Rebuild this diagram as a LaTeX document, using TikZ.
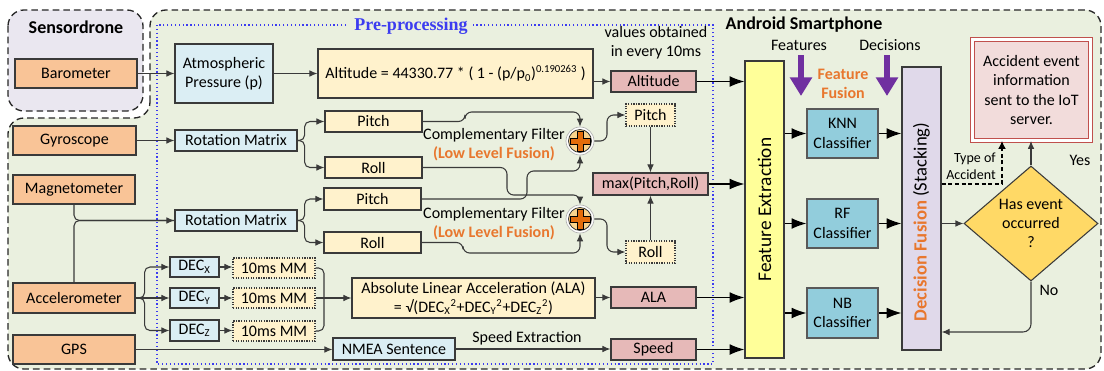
\documentclass[tikz,border=0pt]{standalone}
\usepackage{fontspec}
\setmainfont{Carlito}
\newfontfamily\serifbf{Liberation Serif}
\usetikzlibrary{arrows.meta,shapes.geometric,calc}
\definecolor{bggreen}{HTML}{EAF0DF}
\definecolor{lavbg}{HTML}{EAE7F0}
\definecolor{sensor}{HTML}{F9C497}
\definecolor{lblue}{HTML}{DBEEF4}
\definecolor{lyel}{HTML}{FFF2CC}
\definecolor{pinkc}{HTML}{E6B9B8}
\definecolor{clsc}{HTML}{92CDDC}
\definecolor{fey}{HTML}{FFFF99}
\definecolor{dfl}{HTML}{E0D9EA}
\definecolor{accfill}{HTML}{F2DCDB}
\definecolor{accline}{HTML}{C0504D}
\definecolor{diaf}{HTML}{FFD966}
\definecolor{purp}{HTML}{7030A0}
\definecolor{orng}{HTML}{E8772E}
\definecolor{prebl}{HTML}{3C3CF0}
\definecolor{bord}{HTML}{3A3A3A}
\definecolor{plusbg}{HTML}{FAD38C}
\definecolor{plusor}{HTML}{E46C0A}
\newcommand\mainf{\fontsize{12}{14.4}\selectfont}
\newcommand\mybox[7]{\node[#6, minimum width={(#4-#2)*0.75pt}, minimum height={(#5-#3)*0.75pt}] (#1) at ({(#2+#4)/2},{(#3+#5)/2}) {#7};}
\newcommand\plusnode[3]{%
  \node[circle, draw=gray!60, fill=white, line width=0.5pt, minimum size=21pt, inner sep=0pt] (#1) at (#2,#3) {};
  \filldraw[fill=plusbg, draw=bord, line width=0.6pt] (#1.center) circle[radius=8.6pt];
  \filldraw[fill=plusor, draw=black, line width=0.6pt, shift={(#2,#3)}]
    (-3,-10) -- (3,-10) -- (3,-3) -- (10,-3) -- (10,3) -- (3,3) -- (3,10) -- (-3,10) -- (-3,3) -- (-10,3) -- (-10,-3) -- (-3,-3) -- cycle;}
\tikzset{
  bx/.style={draw=bord, line width=0.9pt, inner sep=0pt, align=center},
  sens/.style={bx, fill=sensor},
  lb/.style={bx, fill=lblue},
  ly/.style={bx, fill=lyel},
  lyd/.style={bx, fill=lyel, densely dotted},
  pk/.style={bx, fill=pinkc},
  cls/.style={bx, fill=clsc, draw=gray!70!black},
  ln/.style={draw=bord, line width=0.8pt},
  arr/.style={ln, -{Latex[length=6pt,width=5pt]}},
  bigarr/.style={draw=black, line width=0.8pt, -{Latex[length=11pt,width=8pt]}},
  purparr/.style={draw=purp, line width=4.5pt, -{Triangle[length=14pt,width=16pt]}},
  regionline/.style={draw=black!85, line width=1pt, dash pattern=on 5pt off 3pt},
}
\begin{document}
\begin{tikzpicture}[x=0.75pt,y=-0.75pt, every node/.style={font=\mainf}]
\useasboundingbox (0,0) rectangle (1104,371);
% regions
\draw[regionline, fill=lavbg, rounded corners=12] (8,10) rectangle (143,111);
\draw[regionline, fill=bggreen, rounded corners=12] (150,118) -- (150,10) -- (1101,10) -- (1101,369) -- (8,369) -- (8,118) -- cycle;
\node[font=\fontsize{13.5}{16}\selectfont\bfseries] (tsd) at (76,27) {Sensordrone};
\node[font=\fontsize{13.5}{16}\selectfont\bfseries] (tas) at (804,25) {Android Smartphone};
\draw[draw=prebl, line width=0.9pt, dotted] (157,25) rectangle (713,364);
\node[fill=bggreen, inner xsep=4pt, inner ysep=1pt, text=prebl, font=\serifbf\fontsize{13.5}{16}\selectfont\bfseries] (tpre) at (411,26) {Pre-processing};

% sensors
\mybox{baro}{15}{59}{137}{88}{sens}{Barometer}
\mybox{gyro}{13}{126}{136}{155}{sens}{Gyroscope}
\mybox{mag}{13}{175}{135}{204}{sens}{Magnetometer}
\mybox{acc}{13}{283}{135}{313}{sens}{Accelerometer}
\mybox{gps}{13}{335}{135}{364}{sens}{GPS}

% pre-processing
\mybox{atm}{175}{44}{273}{103}{lb}{Atmospheric\\Pressure (p)}
\mybox{altf}{318}{49}{593}{98}{ly}{Altitude = 44330.77 * ( 1 - (p/p\textsubscript{0})\textsuperscript{0.190263} )}
\node[align=center] (vals) at (656,43) {values obtained\\in every 10ms};
\mybox{alt}{611}{71}{696}{92}{pk}{Altitude}
\mybox{rma}{175}{130}{297}{151}{lb}{Rotation Matrix}
\mybox{pa}{325}{111}{422}{132}{ly}{Pitch}
\mybox{ra}{325}{157}{422}{178}{ly}{Roll}
\mybox{rmb}{175}{210}{297}{231}{lb}{Rotation Matrix}
\mybox{pb}{324}{188}{421}{210}{ly}{Pitch}
\mybox{rb}{324}{232}{421}{253}{ly}{Roll}
\mybox{pd}{626}{104}{675}{126}{lyd}{Pitch}
\mybox{rd}{626}{241}{675}{263}{lyd}{Roll}
\mybox{mx}{593}{173}{708}{195}{pk}{max(Pitch,Roll)}
\plusnode{ca}{580}{141}
\plusnode{cb}{580}{219}
\node (cfa) at (494,135) {Complementary Filter};
\node[text=orng, font=\mainf\bfseries] (lla) at (494,154) {(Low Level Fusion)};
\node (cfb) at (494,214) {Complementary Filter};
\node[text=orng, font=\mainf\bfseries] (llb) at (494,233) {(Low Level Fusion)};
\mybox{decx}{170}{257}{219}{277}{lb}{DEC\textsubscript{X}}
\mybox{decy}{170}{288}{219}{308}{lb}{DEC\textsubscript{Y}}
\mybox{decz}{170}{320}{219}{341}{lb}{DEC\textsubscript{Z}}
\mybox{mma}{233}{258}{315}{278}{lyd}{10ms MM}
\mybox{mmb}{233}{288}{315}{308}{lyd}{10ms MM}
\mybox{mmc}{233}{321}{315}{341}{lyd}{10ms MM}
\mybox{alaf}{352}{278}{595}{318}{ly}{Absolute Linear Acceleration (ALA)\\= √(DEC\textsubscript{X}\textsuperscript{2}+DEC\textsubscript{Y}\textsuperscript{2}+DEC\textsubscript{Z}\textsuperscript{2})}
\mybox{ala}{611}{287}{696}{308}{pk}{ALA}
\mybox{nmea}{333}{338}{455}{360}{lb}{NMEA Sentence}
\mybox{spd}{611}{339}{696}{360}{pk}{Speed}
\node (sext) at (527,338) {Speed Extraction};

% android part
\mybox{fe}{745}{61}{784}{358}{bx, fill=fey}{}
\node[rotate=90, font=\fontsize{14.5}{17}\selectfont] (fet) at (fe.center) {Feature Extraction};
\node (tfeat) at (799,45) {Features};
\node (tdec) at (890,45) {Decisions};
\coordinate (pua) at (801,55); \coordinate (pub) at (801,96);
\coordinate (puc) at (887,55); \coordinate (pud) at (887,96);
\draw[purparr] (pua) -- (pub);
\draw[purparr] (puc) -- (pud);
\node[text=orng, font=\mainf\bfseries, align=center] (tff) at (843,84) {Feature\\Fusion};
\mybox{knn}{807}{109}{878}{158}{cls}{KNN\\Classifier}
\mybox{rf}{807}{199}{878}{248}{cls}{RF\\Classifier}
\mybox{nb}{807}{288}{878}{338}{cls}{NB\\Classifier}
\mybox{df}{902}{67}{941}{350}{bx, fill=dfl}{}
\node[rotate=90, font=\fontsize{14}{17}\selectfont] (dft) at (921.5,222) {{\color{orng}\bfseries Decision Fusion} (Stacking)};
\node[draw=accline, double=white, double distance=2pt, line width=0.6pt, fill=accfill, minimum width={118*0.75pt}, minimum height={101*0.75pt}, inner sep=0pt, align=center] (accb) at (1031.5,90) {Accident event\\information\\sent to the IoT\\server.};
\node[diamond, draw=bord, line width=0.8pt, fill=diaf, minimum width={134*0.75pt}, minimum height={115*0.75pt}, inner sep=0pt, align=center] (dia) at (1031,223.5) {Has event\\occurred\\?};
\node[font=\fontsize{10.5}{12.5}\selectfont, align=right] (ttoa) at (971,166) {Type of\\Accident};
\node (tyes) at (1080,160) {Yes};
\node (tno) at (1049,290) {No};

% connectors: left
\draw[arr] (baro.east) -- (baro.east -| atm.west);
\draw[arr] (atm.east) -- (atm.east -| altf.west);
\draw[arr] (altf.east |- alt.west) -- (alt.west);
\draw[arr] (gyro.east) -- (gyro.east -| rma.west);
\draw[arr, rounded corners=4] (rma.east) -- ++(7,0) |- (pa.west);
\draw[arr, rounded corners=4] (rma.east) -- ++(7,0) |- (ra.west);
\draw[arr, rounded corners=4] (mag.south) |- (rmb.west);
\draw[ln, rounded corners=4] (acc.north) |- (rmb.west);
\draw[arr, rounded corners=4] (rmb.east) -- ++(7,0) |- (pb.west);
\draw[arr, rounded corners=4] (rmb.east) -- ++(7,0) |- (rb.west);
% complementary filter
\coordinate (ka) at (465,112);
\coordinate (kb) at (507,195);
\coordinate (kc) at (527,171);
\coordinate (kd) at (463,253);
\draw[arr, rounded corners=5] (pa.east) -| (ka) -| (ca.north);
\draw[arr, rounded corners=5] (ra.east) -| (kb) -| (cb.north);
\draw[arr, rounded corners=5] (pb.east) -| (kc) -| (ca.south);
\draw[arr, rounded corners=5] (rb.east) -| (kd) -| (cb.south);
\coordinate (ke) at (607,115);
\coordinate (kf) at (607,252);
\draw[arr, rounded corners=5] (ca.east) -| (ke) -- (pd.west);
\draw[arr, rounded corners=5] (cb.east) -| (kf) -- (rd.west);
\draw[arr] (pd.south) -- (pd.south |- mx.north);
\draw[arr] (rd.north) -- (rd.north |- mx.south);
% accelerometer
\draw[arr, rounded corners=4] (acc.east) -- ++(9,0) |- (decx.west);
\draw[arr] (acc.east) -- (decy.west);
\draw[arr, rounded corners=4] (acc.east) -- ++(9,0) |- (decz.west);
\draw[arr] (decx.east) -- (decx.east -| mma.west);
\draw[arr] (decy.east) -- (decy.east -| mmb.west);
\draw[arr] (decz.east) -- (decz.east -| mmc.west);
\coordinate (mmj) at (324,298);
\draw[ln, rounded corners=4] (mma.east) -| (mmj);
\draw[ln, rounded corners=4] (mmc.east) -| (mmj);
\draw[arr] (mmb.east) -- (alaf.west);
\draw[arr] (alaf.east |- ala.west) -- (ala.west);
\draw[arr] (gps.east) -- (gps.east -| nmea.west);
\draw[arr] (nmea.east) -- (nmea.east -| spd.west);
% to feature extraction
\draw[bigarr] (alt.east) -- (alt.east -| fe.west);
\draw[bigarr] (mx.east) -- (mx.east -| fe.west);
\draw[bigarr] (ala.east) -- (ala.east -| fe.west);
\draw[bigarr] (spd.east) -- (spd.east -| fe.west);
\draw[bigarr] (fe.east |- knn.west) -- (knn.west);
\draw[bigarr] (fe.east |- rf.west) -- (rf.west);
\draw[bigarr] (fe.east |- nb.west) -- (nb.west);
\draw[bigarr] (knn.east) -- (knn.east -| df.west);
\draw[bigarr] (rf.east) -- (rf.east -| df.west);
\draw[bigarr] (nb.east) -- (nb.east -| df.west);
% decision
\draw[arr] (df.east |- dia.west) -- (dia.west);
\draw[arr] (dia.north) -- (dia.north |- accb.south);
\coordinate (nob) at (1031,332);
\draw[arr, rounded corners=6] (dia.south) |- (df.east |- nob);
\coordinate (toa) at (1002,184);
\draw[draw=black, line width=1.3pt, dash pattern=on 3pt off 2pt, -{Latex[length=6pt,width=6pt]}] (df.east |- toa) -| (accb.south -| toa);
\end{tikzpicture}
\end{document}
